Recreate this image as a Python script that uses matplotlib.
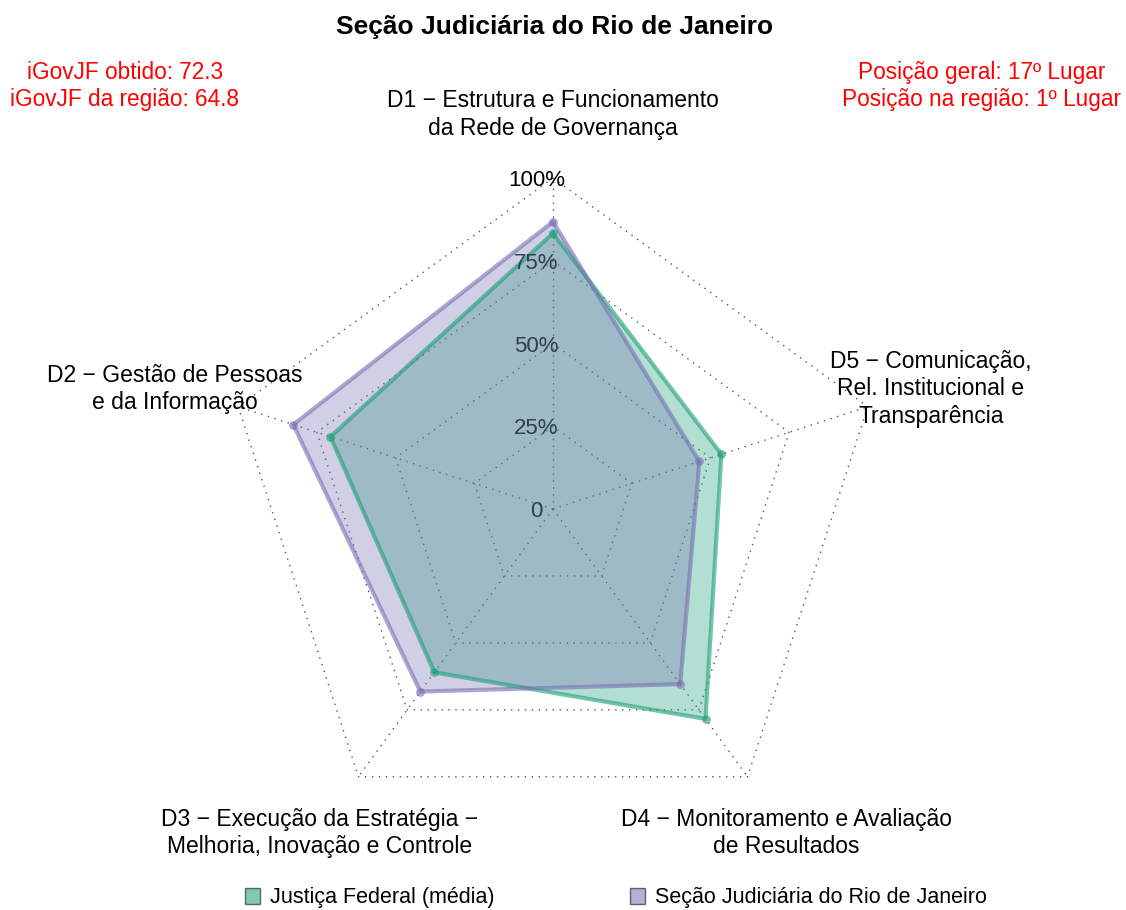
import numpy as np
import matplotlib
matplotlib.use("Agg")
from matplotlib import pyplot as plt
from matplotlib.patches import Patch

plt.rcParams['font.family'] = ['Liberation Sans', 'DejaVu Sans']

# dados
dimensoes = ["D1 − Estrutura e Funcionamento\nda Rede de Governança",
             "D2 − Gestão de Pessoas\ne da Informação",
             "D3 − Execução da Estratégia −\nMelhoria, Inovação e Controle",
             "D4 − Monitoramento e Avaliação\nde Resultados",
             "D5 − Comunicação,\nRel. Institucional e\nTransparência"]
justica_federal = [0.833, 0.707, 0.610, 0.784, 0.535]
secao_rj = [0.868, 0.825, 0.682, 0.654, 0.465]
series_nomes = ["Justiça Federal (média)", "Seção Judiciária do Rio de Janeiro"]
cores = ["#1B9E77", "#7570B3"]
niveis = [0, 0.25, 0.5, 0.75, 1.0]
niveis_rotulos = ["0", "25%", "50%", "75%", "100%"]

fig = plt.figure(figsize=(11.26, 9.10), dpi=100)
ax = fig.add_axes([0, 0, 1, 1])
ax.set_xlim(-553 / 331, (1126 - 553) / 331)
ax.set_ylim(-401 / 331, 509 / 331)
ax.axis('off')

n = len(dimensoes)
ang = np.pi / 2 + 2 * np.pi * np.arange(n) / n
cx, cy = np.cos(ang), np.sin(ang)

# grade pontilhada
for r in niveis[1:]:
    ax.plot(np.append(cx, cx[0]) * r, np.append(cy, cy[0]) * r,
            ls=(0, (1, 4)), color='#555555', lw=1, zorder=1)
for i in range(n):
    ax.plot([0, cx[i]], [0, cy[i]], ls=(0, (1, 4)), color='#555555', lw=1, zorder=1)

# séries
for vals, cor in zip([justica_federal, secao_rj], cores):
    v = np.array(vals)
    xs, ys = np.append(cx * v, cx[0] * v[0]), np.append(cy * v, cy[0] * v[0])
    ax.fill(xs, ys, color=cor, alpha=0.33, lw=0, zorder=2)
    ax.plot(xs, ys, color=cor, alpha=0.6, lw=3, zorder=3)
    ax.scatter(cx * v, cy * v, color=cor, alpha=0.6, s=40, zorder=4, lw=0)

# rótulos dos níveis
for r, lab in zip(niveis, niveis_rotulos):
    ax.text(-0.05, r - 0.008, lab, ha='center', va='center', fontsize=16,
            color='#2F3F4F' if r < 1 else 'black', zorder=5)

# rótulos das dimensões
for i, lab in enumerate(dimensoes):
    ax.text(cx[i] * 1.2, cy[i] * 1.2 - 0.008, lab, ha='center', va='center',
            fontsize=16.5, linespacing=1.26, multialignment='center')

fig.text(555 / 1126, 1 - 27 / 910, "Seção Judiciária do Rio de Janeiro",
         ha='center', va='center', fontsize=19, fontweight='bold')
fig.text(125 / 1126, 1 - 86 / 910, "iGovJF obtido: 72.3\niGovJF da região: 64.8",
         ha='center', va='center', fontsize=16.3, color='red', linespacing=1.22)
fig.text(982 / 1126, 1 - 86 / 910, "Posição geral: 17º Lugar\nPosição na região: 1º Lugar",
         ha='center', va='center', fontsize=16.3, color='red', linespacing=1.22)

handles = [Patch(facecolor=c, alpha=0.55, edgecolor='black', lw=1) for c in cores]
fig.legend(handles, series_nomes, loc='center', bbox_to_anchor=(0.547, 1 - 898 / 910),
           ncol=2, frameon=False, fontsize=15.5, handlelength=0.7, handleheight=0.7,
           columnspacing=6.3, handletextpad=0.45)

fig.savefig("out.png", dpi=100)
